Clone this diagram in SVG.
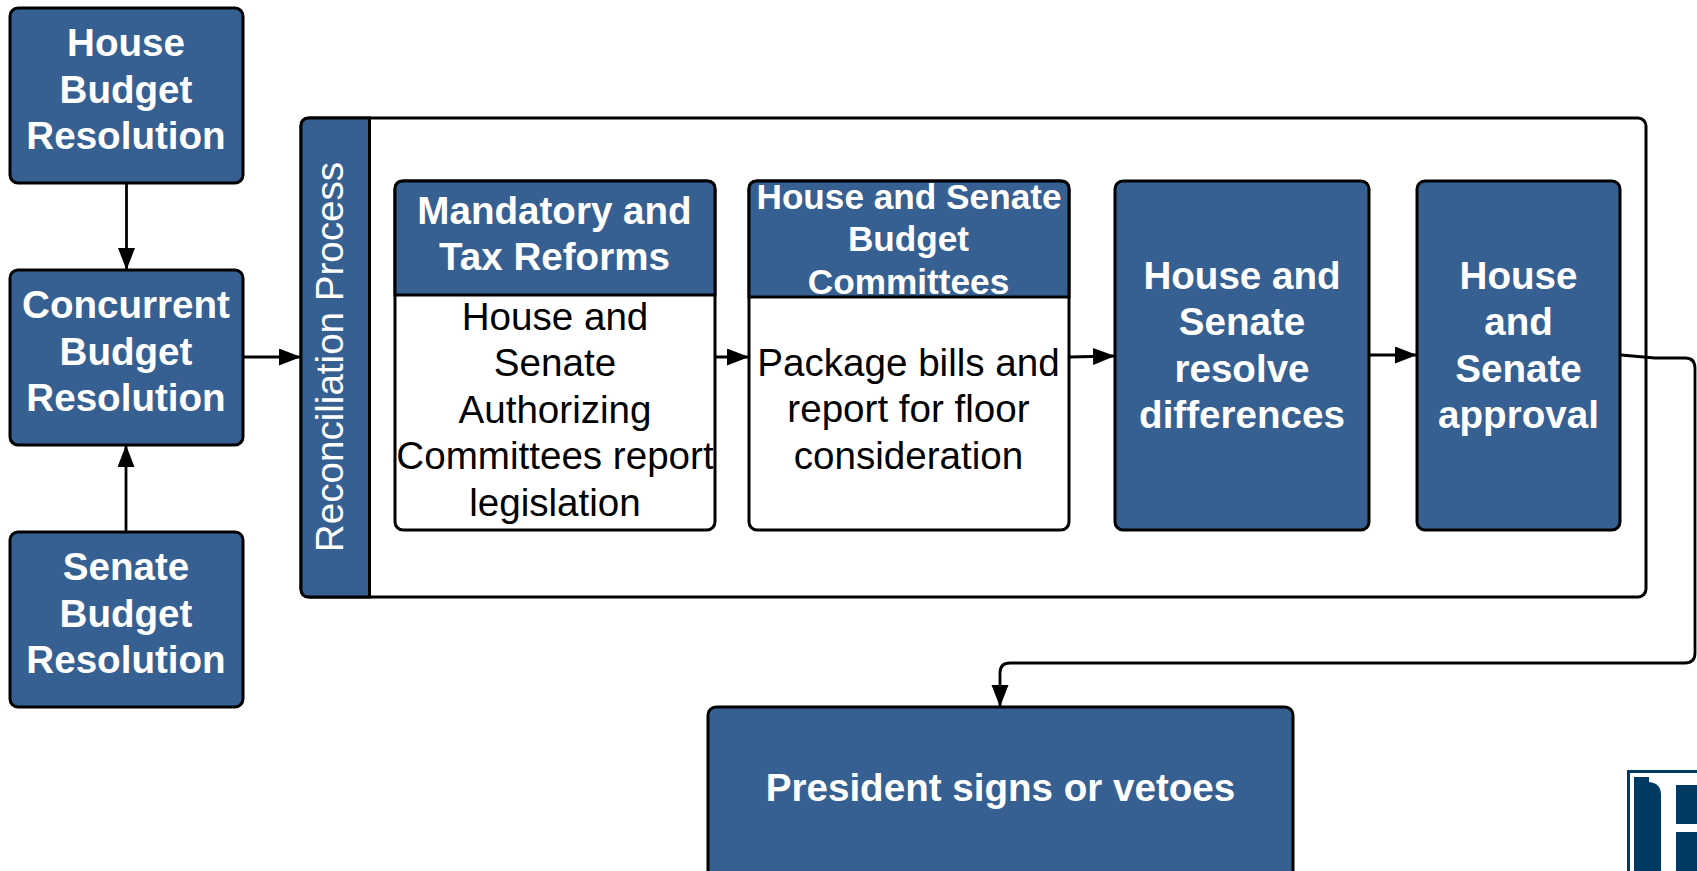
<svg xmlns="http://www.w3.org/2000/svg" width="1697" height="871" viewBox="0 0 1697 871">
<style>
.box{fill:#376092;stroke:#000;stroke-width:3}
.white{fill:#fff;stroke:#000;stroke-width:3}
.ln{fill:none;stroke:#000;stroke-width:2.8}
text{font-family:"Liberation Sans",Arial,sans-serif;text-anchor:middle}
.b{font-size:38.6px;font-weight:bold;fill:#fff}
.h2{font-size:35.2px;font-weight:bold;fill:#fff}
.r{font-size:38.6px;fill:#000}
.v{font-size:38.6px;fill:#fff}
</style>
<defs>
<marker id="arr" markerUnits="userSpaceOnUse" markerWidth="24" markerHeight="18" refX="22" refY="8.5" orient="auto"><path d="M0 0L22 8.5L0 17Z" fill="#000"/></marker>
</defs>
<rect width="1697" height="871" fill="#fff"/>
<g id="house-budget"><rect class="box" x="10" y="8" width="233" height="175" rx="8"/><text class="b" x="126" y="56">House</text><text class="b" x="126" y="102.500">Budget</text><text class="b" x="126" y="149">Resolution</text></g>
<g id="concurrent-budget"><rect class="box" x="10" y="270" width="233" height="175" rx="8"/><text class="b" x="126" y="318">Concurrent</text><text class="b" x="126" y="364.500">Budget</text><text class="b" x="126" y="411">Resolution</text></g>
<g id="senate-budget"><rect class="box" x="10" y="532" width="233" height="175" rx="8"/><text class="b" x="126" y="580">Senate</text><text class="b" x="126" y="626.500">Budget</text><text class="b" x="126" y="673">Resolution</text></g>
<g id="reconciliation">
<rect class="white" x="301" y="118" width="1345" height="479" rx="8"/>
<path class="box" d="M369.500 118H309Q301 118 301 126V589Q301 597 309 597H369.500Z"/>
<text class="v" transform="translate(343 357) rotate(-90)">Reconciliation Process</text>
</g>
<g id="mandatory">
<rect class="white" x="395" y="181" width="320" height="349" rx="8"/>
<path class="box" d="M395 295V189Q395 181 403 181H707Q715 181 715 189V295Z"/>
<text class="b" x="554.500" y="223.500">Mandatory and</text><text class="b" x="554.500" y="270">Tax Reforms</text>
<text class="r" x="555" y="329.500">House and</text><text class="r" x="555" y="376">Senate</text><text class="r" x="555" y="422.500">Authorizing</text><text class="r" x="555" y="469">Committees report</text><text class="r" x="555" y="515.500">legislation</text>
</g>
<g id="budget-committees">
<rect class="white" x="749" y="181" width="320" height="349" rx="8"/>
<path class="box" d="M749 297V189Q749 181 757 181H1061Q1069 181 1069 189V297Z"/>
<text class="h2" x="909" y="209">House and Senate</text><text class="h2" x="908.500" y="251">Budget</text><text class="h2" x="908.500" y="294">Committees</text>
<text class="r" x="908.500" y="375.500">Package bills and</text><text class="r" x="908.500" y="422">report for floor</text><text class="r" x="908.500" y="468.500">consideration</text>
</g>
<g id="resolve"><rect class="box" x="1115" y="181" width="254" height="349" rx="8"/><text class="b" x="1242" y="288.500">House and</text><text class="b" x="1242" y="335">Senate</text><text class="b" x="1242" y="381.500">resolve</text><text class="b" x="1242" y="428">differences</text></g>
<g id="approval"><rect class="box" x="1417" y="181" width="203" height="349" rx="8"/><text class="b" x="1518.500" y="288.500">House</text><text class="b" x="1518.500" y="335">and</text><text class="b" x="1518.500" y="381.500">Senate</text><text class="b" x="1518.500" y="428">approval</text></g>
<g id="president"><rect class="box" x="708" y="707" width="585" height="175" rx="8"/><text class="b" x="1000.500" y="801">President signs or vetoes</text></g>
<g id="logo">
<rect x="1628.500" y="771.500" width="75" height="105" fill="#fff" stroke="#003a63" stroke-width="3"/>
<rect x="1634" y="777" width="63" height="94" fill="#003a63"/>
<path d="M1649 777H1697V785H1676V824H1697V832H1676V871H1661V795Q1661 783 1649 782Z" fill="#fff"/>
</g>
<g id="connectors">
<path class="ln" d="M126.500 183V270" marker-end="url(#arr)"/>
<path class="ln" d="M126 532V445" marker-end="url(#arr)"/>
<path class="ln" d="M243 357H301" marker-end="url(#arr)"/>
<path class="ln" d="M715 357H749" marker-end="url(#arr)"/>
<path class="ln" d="M1069 357L1115 356" marker-end="url(#arr)"/>
<path class="ln" d="M1369 355H1417" marker-end="url(#arr)"/>
<path class="ln" d="M1621 355L1655 358H1685Q1695 358 1695 368V653Q1695 663 1685 663H1010Q1000 663 1000 673V707" marker-end="url(#arr)"/>
</g>
</svg>
